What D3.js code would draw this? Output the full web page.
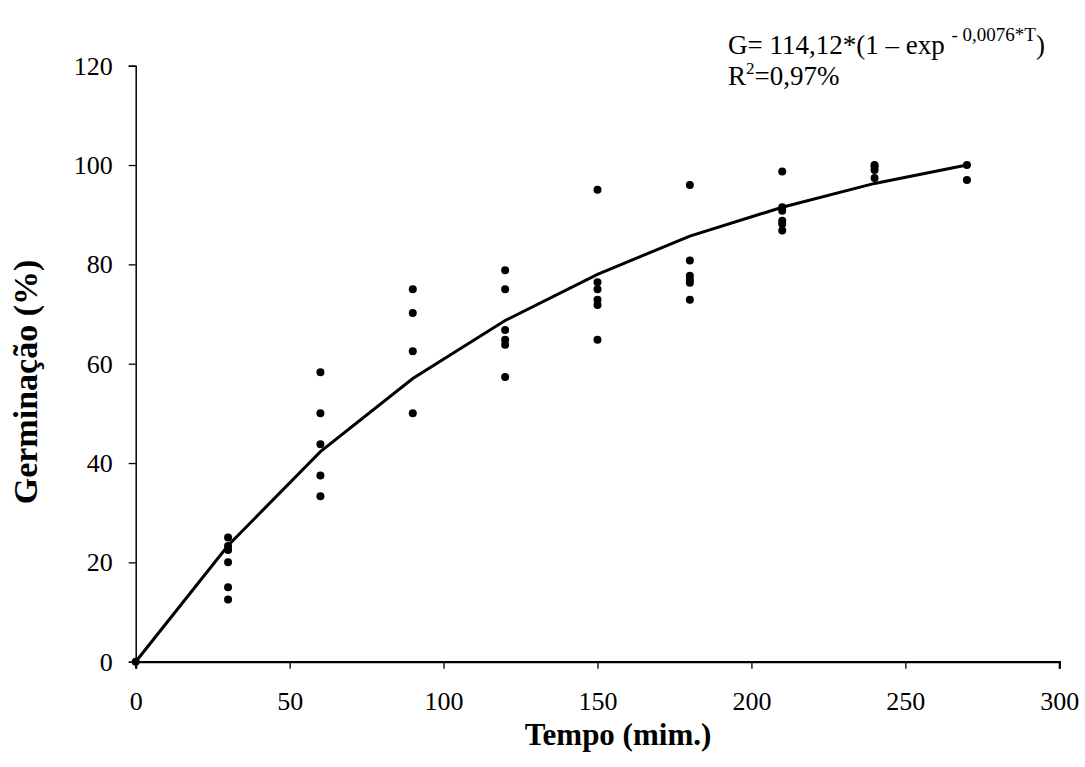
<!DOCTYPE html>
<html>
<head>
<meta charset="utf-8">
<script src="https://cdn.jsdelivr.net/npm/d3@7"></script>
<style>
  body { margin: 0; background: #fff; }
  svg text { font-family: "Liberation Serif", "Times New Roman", Tinos, "DejaVu Serif", serif !important; fill: #000; }
</style>
</head>
<body>
<div id="chart"></div>
<script>
// tempo (min) and observed germination (%)
var obsTime = [0, 30, 30, 30, 30, 30, 30,
    60, 60, 60, 60, 60,
    90, 90, 90, 90,
    120, 120, 120, 120, 120, 120,
    150, 150, 150, 150, 150, 150,
    180, 180, 180, 180, 180, 180,
    210, 210, 210, 210, 210, 210,
    240, 240, 240, 240,
    270, 270];
var obsGerm = [0, 25, 23.3, 22.5, 20, 15, 12.5,
    58.3, 50, 43.8, 37.5, 33.3,
    75, 70.2, 62.5, 50,
    78.8, 75, 66.8, 64.8, 63.8, 57.3,
    95, 76.4, 75, 72.9, 71.8, 64.8,
    96, 80.8, 77.7, 76.9, 76.3, 72.9,
    98.7, 91.5, 90.8, 88.8, 88.2, 86.8,
    100, 99.7, 99, 97.4,
    100, 97];

// fitted curve
var fitTime = [0, 30, 60, 90, 120, 150, 180, 210, 240, 270];
var fitGerm = [0, 23.4, 42.3, 57, 68.7, 78, 85.7, 91.5, 96.3, 100];

var xTicks = [0, 50, 100, 150, 200, 250, 300];
var yTicks = [0, 20, 40, 60, 80, 100, 120];

const w = 1085;
const h = 767;
const serif = "'Liberation Serif', 'Times New Roman', Tinos, 'DejaVu Serif', serif";

const svg = d3.select("#chart")
    .append("svg")
    .attr("width", w)
    .attr("height", h)
    .attr("font-family", serif);

const xScale = d3.scaleLinear()
    .domain([0, 300])
    .range([135.7, 1059.3]);

const yScale = d3.scaleLinear()
    .domain([0, 120])
    .range([661.7, 65.7]);

// Y axis
const yAxis = d3.axisLeft(yScale).tickValues(yTicks).tickSize(7).tickPadding(16);
const gy = svg.append("g")
    .attr("transform", "translate(" + xScale(0) + ",0)")
    .call(yAxis)
    .attr("font-family", serif)
    .attr("font-size", 26);
gy.select(".domain").attr("stroke", "#000").attr("stroke-width", 1.5);
gy.selectAll(".tick line").attr("stroke", "#000").attr("stroke-width", 1.3);
gy.selectAll(".tick text").attr("fill", "#000").style("font-family", serif);

// X axis
const xAxis = d3.axisBottom(xScale).tickValues(xTicks).tickSize(7).tickPadding(23);
const gx = svg.append("g")
    .attr("transform", "translate(0," + yScale(0) + ")")
    .call(xAxis)
    .attr("font-family", serif)
    .attr("font-size", 26);
gx.select(".domain").attr("stroke", "#000").attr("stroke-width", 2.2);
gx.selectAll(".tick line").attr("stroke", "#000").attr("stroke-width", 1.3);
gx.selectAll(".tick text").attr("fill", "#000").style("font-family", serif);

// fitted line
const line = d3.line()
    .x((d, i) => xScale(fitTime[i]))
    .y((d) => yScale(d));

svg.append("path")
    .datum(fitGerm)
    .attr("fill", "none")
    .attr("stroke", "#000")
    .attr("stroke-width", 3)
    .attr("d", line);

// observed points
svg.selectAll("circle")
    .data(obsGerm)
    .enter()
    .append("circle")
    .attr("cx", (d, i) => xScale(obsTime[i]))
    .attr("cy", (d) => yScale(d))
    .attr("r", 4)
    .attr("fill", "#000");

// axis titles
svg.append("text")
    .attr("x", 618)
    .attr("y", 745)
    .attr("text-anchor", "middle")
    .attr("font-size", 31)
    .attr("font-weight", "bold")
    .text("Tempo (mim.)");

svg.append("text")
    .attr("transform", "rotate(-90)")
    .attr("x", -382)
    .attr("y", 37)
    .attr("text-anchor", "middle")
    .attr("font-size", 34)
    .attr("font-weight", "bold")
    .text("Germinação (%)");

// equation
const eq = svg.append("text")
    .attr("x", 728)
    .attr("y", 54)
    .attr("font-size", 27);
eq.append("tspan").text("G= 114,12*(1 \u2013 exp ");
eq.append("tspan").attr("dy", -13).attr("font-size", 19).text("- 0,0076*T");
eq.append("tspan").attr("dy", 13).text(")");

const r2 = svg.append("text")
    .attr("x", 728)
    .attr("y", 85)
    .attr("font-size", 27);
r2.append("tspan").text("R");
r2.append("tspan").attr("dy", -11).attr("font-size", 17).text("2");
r2.append("tspan").attr("dy", 11).text("=0,97%");
</script>
</body>
</html>
